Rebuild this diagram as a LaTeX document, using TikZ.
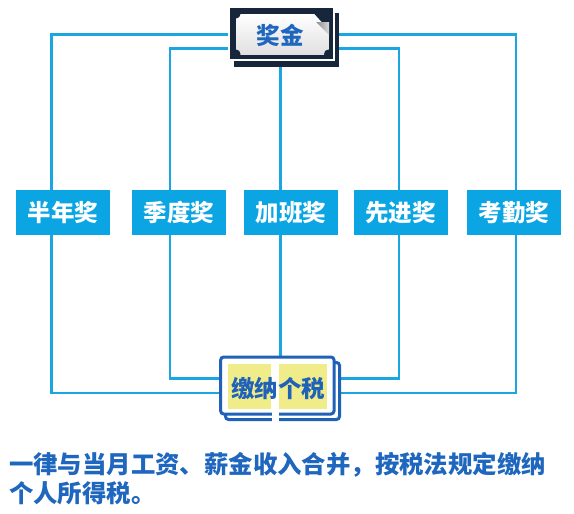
\documentclass[tikz,border=0pt]{standalone}
\usepackage{fontspec}
\newfontfamily\cjk{Noto Sans CJK SC}
\usetikzlibrary{backgrounds}
\definecolor{lineblue}{HTML}{1AA7E1}
\definecolor{boxblue}{HTML}{0BA5E4}
\definecolor{navy}{HTML}{17263B}
\definecolor{textblue}{HTML}{1F66BE}
\definecolor{bookblue}{HTML}{1F62B8}
\definecolor{yel}{HTML}{F0EC8A}
\begin{document}
\begin{tikzpicture}[x=1pt,y=-1pt,
  conn/.style={draw=lineblue,line width=2.6pt},
  award/.style={fill=boxblue,text=white,minimum width=94pt,minimum height=45pt,inner sep=0pt,
    font=\cjk\bfseries\fontsize{23.5}{23.5}\selectfont},
  ttl/.style={text=textblue,inner sep=0pt,font=\cjk\bfseries\fontsize{23.5}{23.5}\selectfont},
]
\useasboundingbox (0,0) rectangle (574,514);

% award boxes
\node[award] (b1) at (63,212.5) {半年奖};
\node[award] (b2) at (179,212.5) {季度奖};
\node[award] (b3) at (291,212.5) {加班奖};
\node[award] (b4) at (400.5,212.5) {先进奖};
\node[award] (b5) at (514,212.5) {考勤奖};

% top box (奖金)
\fill[navy] (234,13) rectangle (339,67);
\filldraw[fill=navy,draw=white,line width=1.2pt] (229,7) rectangle (334,60);
\shade[top color=white,bottom color=black!12] (236,14) rectangle (328.5,54);
\fill[navy] (236,14) circle (4.5);
\fill[navy] (236,54) circle (4.5);
\fill[navy] (328.5,54) circle (4.5);
\fill[navy] (314,13.5) -- (329,13.5) -- (329,30) -- cycle;
\shade[left color=black!45,right color=black!15] (316,22) -- (329,22) -- (329,35) -- cycle;
\node[minimum width=105pt,minimum height=53pt,inner sep=0pt] (top) at (281.5,33.5) {};
\node[ttl] (toptext) at (280,35) {奖金};

% bottom box (缴纳个税)
\filldraw[fill=white,draw=bookblue,line width=3pt,rounded corners=3pt] (225.5,362.5) rectangle (339.5,419.5);
\filldraw[fill=white,draw=bookblue,line width=3pt,rounded corners=3pt] (220.7,357) rectangle (334,414);
\fill[white] (272,404) rectangle (279,423);
\fill[yel] (228,364) rectangle (270.5,408.5);
\fill[yel] (279,364) rectangle (327,408.5);
\node[minimum width=114pt,minimum height=57pt,inner sep=0pt] (bot) at (277.4,385.5) {};
\node[ttl,text=bookblue] (bottext) at (278,389) {缴纳个税};

% note
\node[anchor=north west,inner sep=0pt,align=left,text=textblue,
  font=\cjk\bfseries\fontsize{24.4}{29.5}\selectfont] (note) at (9,452)
  {一律与当月工资、薪金收入合并，按税法规定缴纳\\个人所得税。};

% connectors
\begin{scope}[on background layer]
\draw[conn] (top.west |- 0,34.5) -| (b1.north -| 51.7,0);
\draw[conn] (b1.south -| 51.7,0) |- (bot.west |- 0,393);
\draw[conn] (top.east |- 0,34.5) -| (b5.north -| 516,0);
\draw[conn] (b5.south -| 516,0) |- (bot.east |- 0,393);
\draw[conn] (top.west |- 0,48.5) -| (b2.north -| 170,0);
\draw[conn] (b2.south -| 170,0) |- (bot.west |- 0,378.7);
\draw[conn] (top.east |- 0,48.5) -| (b4.north -| 399,0);
\draw[conn] (b4.south -| 399,0) |- (bot.east |- 0,378.7);
\draw[conn] (top.south -| 280.7,0) -- (b3.north -| 280.7,0);
\draw[conn] (b3.south -| 280.7,0) -- (bot.north -| 280.7,0);
\end{scope}
\end{tikzpicture}
\end{document}
